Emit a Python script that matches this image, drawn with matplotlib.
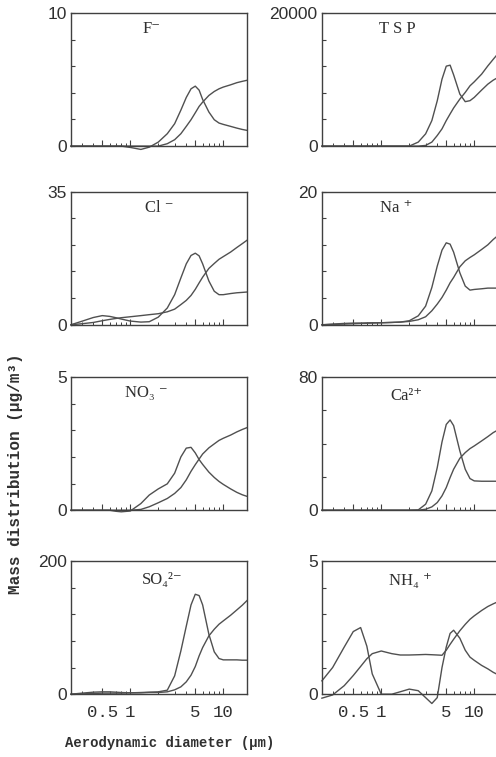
import numpy as np
import matplotlib
matplotlib.use('Agg')
from matplotlib import pyplot as plt
from matplotlib.ticker import LogLocator, NullFormatter, FixedLocator

# diametros (um) donde leo las curvas
diam = [0.23, 0.3, 0.4, 0.5, 0.6, 0.7, 0.8, 1.0, 1.3, 1.6, 2.0, 2.5, 3.0, 3.5,
        4.0, 4.5, 5.0, 5.5, 6.0, 7.0, 8.0, 9.0, 10, 12, 14, 16, 18]

# F-
f_pico = [0, 0, 0, 0, 0, 0, 0, -0.1, -0.25, -0.08, 0.3, 0.93, 1.68, 2.7,
          3.65, 4.3, 4.5, 4.2, 3.5, 2.56, 1.98, 1.73, 1.63, 1.48, 1.35, 1.25, 1.18]
f_acum = [0, 0, 0, 0, 0, 0, 0, 0, 0, 0, 0, 0.18, 0.48, 0.93,
          1.48, 1.98, 2.5, 2.98, 3.3, 3.8, 4.1, 4.3, 4.43, 4.6, 4.76, 4.86, 4.94]
# TSP
tsp_pico = [0, 0, 0, 0, 0, 0, 0, 0, 0, 0, 0, 600, 1840, 3830,
            6800, 10050, 12000, 12150, 10700, 7810, 6670, 6820, 7310, 8410, 9300, 9900, 10300]
tsp_acum = [0, 0, 0, 0, 0, 0, 0, 0, 0, 0, 0, 0, 100, 600,
            1590, 2590, 3830, 4830, 5720, 7060, 8060, 9050, 9650, 10800, 12040, 13030, 13880]
# Cl-
cl_pico = [0, 0.9, 1.9, 2.4, 2.2, 1.85, 1.5, 0.97, 0.7, 0.8, 2.0, 4.4, 7.9, 12.3,
           16.0, 18.2, 18.8, 18.1, 16.0, 11.5, 8.8, 7.9, 7.9, 8.2, 8.4, 8.5, 8.6]
cl_acum = [0, 0.26, 0.6, 1.06, 1.4, 1.65, 1.85, 2.1, 2.4, 2.65, 2.9, 3.4, 4.1, 5.3,
           6.4, 7.7, 9.3, 11.0, 12.5, 14.8, 16.1, 17.2, 17.9, 19.1, 20.3, 21.3, 22.2]
# Na+
na_pico = [0, 0.1, 0.2, 0.25, 0.25, 0.28, 0.3, 0.3, 0.35, 0.4, 0.6, 1.34, 2.8, 5.6,
           8.8, 11.2, 12.3, 12.1, 10.9, 7.8, 5.8, 5.2, 5.3, 5.4, 5.5, 5.5, 5.5]
na_acum = [0, 0.05, 0.1, 0.15, 0.2, 0.22, 0.25, 0.3, 0.35, 0.4, 0.5, 0.75, 1.2, 2.1,
           3.1, 4.1, 5.2, 6.3, 7.1, 8.7, 9.6, 10.1, 10.5, 11.3, 12.0, 12.8, 13.4]
# NO3-
no3_pico = [0, 0, 0, 0, 0, -0.04, -0.06, -0.03, 0.25, 0.57, 0.8, 0.99, 1.39, 2.0,
            2.33, 2.36, 2.15, 1.9, 1.72, 1.43, 1.23, 1.08, 0.97, 0.8, 0.67, 0.58, 0.52]
no3_acum = [0, 0, 0, 0, 0, 0, 0, 0, 0.03, 0.13, 0.28, 0.44, 0.63, 0.85,
            1.14, 1.46, 1.71, 1.92, 2.11, 2.34, 2.49, 2.62, 2.7, 2.82, 2.94, 3.03, 3.1]
# Ca2+
ca_pico = [0, 0, 0, 0, 0, 0, 0, 0, 0, 0, 0, 0.2, 3.6, 11.6,
           25.6, 41.0, 51.5, 54.2, 50.8, 35.6, 24.6, 19.0, 17.6, 17.4, 17.4, 17.4, 17.4]
ca_acum = [0, 0, 0, 0, 0, 0, 0, 0, 0, 0, 0, 0, 0.6, 2.0,
           4.6, 8.6, 13.6, 19.6, 24.6, 31.2, 34.6, 37.0, 38.6, 41.6, 44.2, 46.6, 48.2]
# SO4 2-
so4_pico = [0, 1.5, 3, 3.5, 3.5, 3, 2.5, 2, 2.5, 3, 3.5, 6, 27.5, 65,
            102, 134, 150, 148, 134, 90, 63.5, 53.5, 51.5, 51.5, 51.5, 51, 51]
so4_acum = [0, 0.5, 1, 1.5, 1.5, 1.5, 1.5, 2, 2, 2.5, 2.5, 3.5, 6.5, 11,
            18.5, 28.5, 41.5, 57.5, 70, 87.5, 97.5, 105, 110, 118.5, 126.5, 133.5, 140.5]
# NH4+
nh4_pico = [0.5, 1.0, 1.77, 2.35, 2.5, 1.8, 0.76, 0, 0, 0.09, 0.19, 0.13, -0.13, -0.35,
            -0.13, 1.0, 1.77, 2.28, 2.4, 2.1, 1.65, 1.39, 1.27, 1.08, 0.95, 0.82, 0.73]
nh4_acum = [-0.15, -0.03, 0.32, 0.7, 1.04, 1.33, 1.52, 1.62, 1.52, 1.47, 1.47, 1.48, 1.49, 1.48,
            1.47, 1.46, 1.65, 1.87, 2.06, 2.38, 2.62, 2.81, 2.94, 3.14, 3.29, 3.39, 3.47]

nombres = ['F\u207b', 'T S P', 'Cl \u207b', 'Na \u207a',
           'NO\u2083 \u207b', 'Ca\u00b2\u207a', 'SO\u2084\u00b2\u207b', 'NH\u2084 \u207a']
ymaxs = [10, 20000, 35, 20, 5, 80, 200, 5]
ytick_lbl = ['10', '20000', '35', '20', '5', '80', '200', '5']
n_ticks = [5, 5, 5, 5, 5, 4, 5, 5]
series = [(f_pico, f_acum), (tsp_pico, tsp_acum), (cl_pico, cl_acum), (na_pico, na_acum),
          (no3_pico, no3_acum), (ca_pico, ca_acum), (so4_pico, so4_acum), (nh4_pico, nh4_acum)]
pos_titulo = [(0.46, 0.88), (0.43, 0.88), (0.5, 0.88), (0.42, 0.88),
              (0.43, 0.88), (0.48, 0.86), (0.52, 0.86), (0.5, 0.85)]

fuente_num = ['Liberation Sans', 'DejaVu Sans']
gris = '#505050'

fig = plt.figure(figsize=(4.96, 7.57), dpi=100)
izq = [0.143, 0.649]
abajo = [0.807, 0.571, 0.326, 0.083]
ancho, alto = 0.355, 0.176

for i in range(8):
    fila, col = i // 2, i % 2
    ax = fig.add_axes([izq[col], abajo[fila], ancho, alto])
    pico, acum = series[i]
    ax.plot(diam, pico, color=gris, lw=1.0, clip_on=False)
    ax.plot(diam, acum, color=gris, lw=1.0, clip_on=False)
    ax.set_xscale('log')
    ax.set_xlim(0.23, 18)
    ax.set_ylim(0, ymaxs[i])
    for s in ax.spines.values():
        s.set_color('#404040')
        s.set_linewidth(1.0)
    if col == 1:
        ax.spines['right'].set_visible(False)
    # eje y: solo 0 y maximo con etiqueta
    yt = np.linspace(0, ymaxs[i], n_ticks[i] + 1)
    ax.set_yticks(yt)
    ax.set_yticklabels(['0'] + [''] * (n_ticks[i] - 1) + [ytick_lbl[i]],
                       family=fuente_num, fontsize=12.5)
    ax.tick_params(axis='y', direction='in', length=3, width=0.8, color='#404040',
                   pad=3, labelcolor='#303030')
    ax.xaxis.set_major_locator(FixedLocator([0.5, 1, 5, 10]))
    ax.xaxis.set_minor_locator(LogLocator(base=10, subs=np.arange(2, 10)))
    ax.xaxis.set_minor_formatter(NullFormatter())
    ax.tick_params(axis='x', which='major', direction='in', length=4, width=0.8,
                   color='#404040', pad=8, labelcolor='#303030')
    ax.tick_params(axis='x', which='minor', direction='in', length=2.5, width=0.7,
                   color='#404040')
    if fila == 3:
        ax.set_xticklabels(['0.5', '1', '5', '10'], family='Liberation Mono', fontsize=12.5)
    else:
        ax.set_xticklabels([])
    ax.text(pos_titulo[i][0], pos_titulo[i][1], nombres[i], transform=ax.transAxes,
            ha='center', va='center', fontsize=12, color='#303030',
            family=['Liberation Serif', 'DejaVu Serif'])

fig.text(0.343, 0.018, 'Aerodynamic diameter (\u03bcm)', ha='center', va='center',
         family=['Liberation Mono', 'DejaVu Sans Mono'], fontsize=10, weight='bold',
         color='#303030')
fig.text(0.032, 0.374, 'Mass distribution (\u03bcg/m\u00b3)', ha='center', va='center',
         rotation=90, family=['Liberation Mono', 'DejaVu Sans Mono'], fontsize=11.5,
         weight='bold', color='#303030')

plt.savefig('out.png', dpi=100, facecolor='white')
